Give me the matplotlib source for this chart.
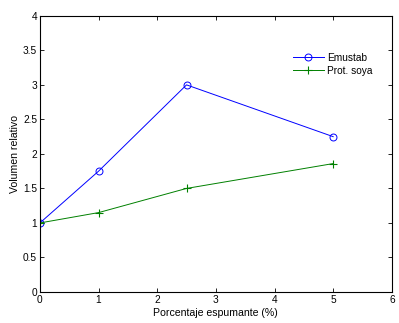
import matplotlib
matplotlib.use("Agg")
import matplotlib.pyplot as plt

# data
porcentaje = [0, 1, 2.5, 5]
emustab = [1, 1.75, 3, 2.25]
prot_soya = [1, 1.15, 1.5, 1.86]

plt.rcParams['font.family'] = ['Liberation Sans', 'DejaVu Sans']
plt.rcParams['font.size'] = 7

fig = plt.figure(figsize=(3.99, 3.23), dpi=100)
ax = fig.add_axes([0.100, 0.096, 0.882, 0.855])

ax.plot(porcentaje, emustab, color="#0000ff", lw=0.7, marker="o", ms=5,
        mfc="none", mew=0.7, label="Emustab")
ax.plot(porcentaje, prot_soya, color="#008000", lw=0.7, marker="+", ms=6,
        mew=0.8, label="Prot. soya")

ax.set_xlim(0, 6)
ax.set_ylim(0, 4)
ax.set_xticks(range(0, 7))
ax.set_yticks([0, 0.5, 1, 1.5, 2, 2.5, 3, 3.5, 4])
ax.set_yticklabels(["0", "0.5", "1", "1.5", "2", "2.5", "3", "3.5", "4"])
ax.tick_params(direction="in", top=True, right=True, length=3, width=0.6, pad=2,
               labelsize=7.3)
for s in ax.spines.values():
    s.set_linewidth(0.8)

ax.set_xlabel("Porcentaje espumante (%)", labelpad=2, fontsize=7.6)
ax.set_ylabel("Volumen relativo", labelpad=2, fontsize=7.6)

ax.legend(loc="upper right", bbox_to_anchor=(0.97, 0.9), frameon=False,
          handlelength=3, handletextpad=0.3, labelspacing=0.3, fontsize=7.3)

fig.savefig("out.png", dpi=100)
